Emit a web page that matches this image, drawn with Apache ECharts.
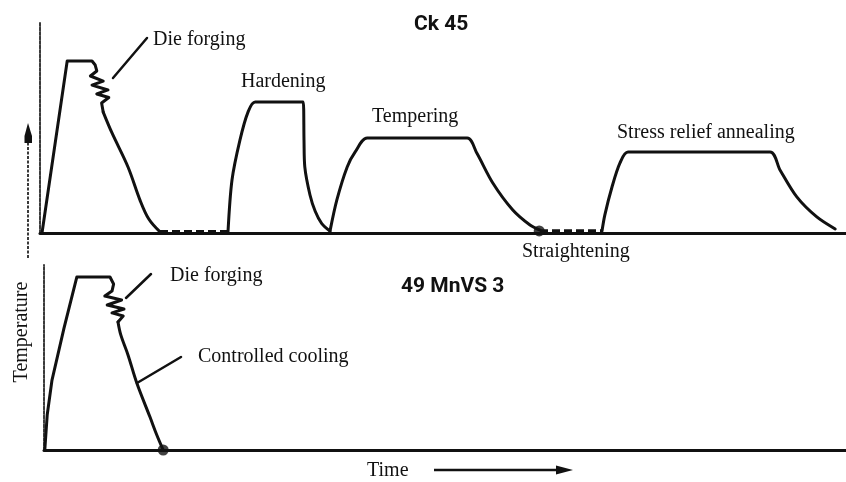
<!DOCTYPE html>
<html>
<head>
<meta charset="utf-8">
<title>Heat treatment sequence: Ck 45 vs 49 MnVS 3</title>
<script src="https://cdn.jsdelivr.net/npm/echarts@6/dist/echarts.min.js"></script>
<style>
  html, body { margin: 0; padding: 0; background: #ffffff; }
  #chart { width: 846px; height: 482px; }
</style>
</head>
<body>
<div id="chart"></div>
<script>
// Ck 45 route: die forging, hardening, tempering, straightening, stress relief annealing
// [time, temperature] in relative units
const ck45ForgingHeat = [
  [0.25, 0], [3.4, 81.5], [6.5, 81.5],
  [6.9, 79.6], [7.1, 76.8], [6.3, 74.4], [7.9, 72.0], [6.5, 70.1],
  [8.5, 67.8], [7.1, 65.9], [8.6, 64.2], [7.7, 61.6], [7.9, 57.3]
];
const ck45ForgingCool = [
  [7.9, 57.3], [9.0, 47.4], [11.0, 31.3], [12.5, 15.6], [13.6, 6.6], [15.0, 0.5]
];
const ck45Hold1 = [[15.0, 0.6], [23.5, 0.6]];
const ck45Hardening = [
  [23.5, 0.5], [24.0, 25.1], [25.0, 44.1], [26.0, 57.3], [26.9, 62.1],
  [32.9, 62.1], [33.0, 44.1], [33.1, 31.3], [33.75, 18.0], [34.4, 10.3],
  [35.2, 4.6], [36.25, 0.9]
];
const ck45Tempering = [
  [36.25, 0.9], [37.1, 15.6], [38.4, 31.3], [39.4, 38.4], [40.9, 45.0],
  [53.4, 45.0], [54.6, 37.9], [56.6, 23.7], [59.1, 10.9], [61.25, 3.8], [62.5, 1.4]
];
const ck45Hold2 = [[62.5, 1.0], [70.25, 1.0]];
const ck45StressRelief = [
  [70.25, 0.9], [70.6, 8.5], [71.5, 21.8], [72.5, 33.2], [73.5, 38.4],
  [91.25, 38.4], [92.5, 29.9], [94.6, 17.1], [97.1, 7.6], [99.4, 1.9]
];
const ck45Straightening = [[62.4, 1.0]];

// 49 MnVS 3 route: die forging followed by controlled cooling
const mnvsForgingHeat = [
  [0.1, 0], [0.4, 18.9], [1.0, 37.8], [2.5, 65.9], [4.1, 93.5], [8.25, 93.5],
  [8.7, 89.7], [8.5, 85.9], [7.6, 83.2], [9.7, 81.1], [7.9, 78.4],
  [10.0, 76.2], [8.5, 74.1], [9.9, 72.4], [9.25, 69.2]
];
const mnvsControlledCooling = [
  [9.25, 69.2], [9.6, 62.2], [10.5, 51.4], [11.6, 36.2], [13.25, 17.8], [14.1, 8.1], [14.9, 0]
];
const mnvsEnd = [[14.9, 0]];

// Annotation texts
const panelTitles = ['Ck 45', '49 MnVS 3'];
const stepLabels = ['Die forging', 'Hardening', 'Tempering', 'Stress relief annealing',
                    'Straightening', 'Die forging', 'Controlled cooling'];
const axisNames = ['Temperature', 'Time'];

const INK = '#111111';
const serif = '"Liberation Serif", "Times New Roman", serif';
const stencil = 'Roboto, "DejaVu Sans", sans-serif';

const chart = echarts.init(document.getElementById('chart'), null, { renderer: 'canvas' });

function xAx(gridIndex, max) {
  return {
    type: 'value', gridIndex: gridIndex, min: 0, max: max,
    axisLine: { show: true, onZero: false, lineStyle: { color: INK, width: 3 } },
    axisTick: { show: false }, axisLabel: { show: false }, splitLine: { show: false }
  };
}
function yAx(gridIndex) {
  return {
    type: 'value', gridIndex: gridIndex, min: 0, max: 100,
    axisLine: { show: true, onZero: false, lineStyle: { color: '#3a3a3a', width: 2, type: [3, 1.5] } },
    axisTick: { show: false }, axisLabel: { show: false }, splitLine: { show: false }
  };
}
function curve(data, idx, smooth) {
  return {
    type: 'line', data: data, xAxisIndex: idx, yAxisIndex: idx,
    showSymbol: false, symbol: 'none', smooth: smooth || false, silent: true,
    lineStyle: { color: INK, width: 3, join: 'round', cap: 'round' }, z: 3
  };
}
function holdLine(data, idx) {
  return {
    type: 'line', data: data, xAxisIndex: idx, yAxisIndex: idx,
    showSymbol: false, symbol: 'none', silent: true,
    lineStyle: { color: INK, width: 3.5, type: [8, 4] }, z: 3
  };
}
function dot(data, idx) {
  return {
    type: 'scatter', data: data, xAxisIndex: idx, yAxisIndex: idx,
    symbol: 'circle', symbolSize: 11, silent: true,
    itemStyle: { color: INK }, z: 4
  };
}
function label(text, x, y, font) {
  return {
    type: 'text', silent: true,
    style: { text: text, x: x, y: y, fill: INK, font: font || ('20px ' + serif),
             textAlign: 'left', textVerticalAlign: 'middle' }
  };
}
function stroke(x1, y1, x2, y2, w) {
  return { type: 'line', silent: true,
           shape: { x1: x1, y1: y1, x2: x2, y2: y2 },
           style: { stroke: INK, lineWidth: w || 2.5, lineCap: 'round' } };
}

chart.setOption({
  animation: false,
  backgroundColor: '#ffffff',
  grid: [
    { left: 40, top: 22, width: 806, height: 211 },
    { left: 44, top: 265, width: 802, height: 185 }
  ],
  xAxis: [xAx(0, 100.75), xAx(1, 100.25)],
  yAxis: [yAx(0), yAx(1)],
  series: [
    curve(ck45ForgingHeat, 0),
    curve(ck45ForgingCool, 0, 0.35),
    holdLine(ck45Hold1, 0),
    curve(ck45Hardening, 0, 0.3),
    curve(ck45Tempering, 0, 0.3),
    holdLine(ck45Hold2, 0),
    curve(ck45StressRelief, 0, 0.3),
    dot(ck45Straightening, 0),
    curve(mnvsForgingHeat, 1),
    curve(mnvsControlledCooling, 1, 0.35),
    dot(mnvsEnd, 1)
  ],
  graphic: [
    // panel titles
    label(panelTitles[0], 414, 25, 'bold 21px ' + stencil),
    label(panelTitles[1], 401, 287, 'bold 21px ' + stencil),
    // process step labels
    label(stepLabels[0], 153, 40),
    label(stepLabels[1], 241, 82),
    label(stepLabels[2], 372, 117),
    label(stepLabels[3], 617, 133),
    label(stepLabels[4], 522, 252),
    label(stepLabels[5], 170, 276),
    label(stepLabels[6], 198, 357),
    // leader lines
    stroke(113, 78, 147, 38),
    stroke(126, 298, 151, 274),
    stroke(137, 383, 181, 357),
    // temperature arrow
    { type: 'line', silent: true, shape: { x1: 28, y1: 258, x2: 28, y2: 138 },
      style: { stroke: '#3a3a3a', lineWidth: 2, lineDash: [3, 1.5] } },
    { type: 'polygon', silent: true,
      shape: { points: [[28, 123], [32, 136], [32, 143], [24.5, 143], [24.5, 136]] },
      style: { fill: INK } },
    // axis names
    { type: 'text', silent: true, rotation: Math.PI / 2, x: 22, y: 332,
      style: { text: axisNames[0], x: 0, y: 0, fill: INK, font: '20px ' + serif,
               textAlign: 'center', textVerticalAlign: 'middle' } },
    label(axisNames[1], 367, 471),
    // time arrow
    { type: 'line', silent: true, shape: { x1: 434, y1: 470, x2: 560, y2: 470 },
      style: { stroke: INK, lineWidth: 2.5 } },
    { type: 'polygon', silent: true,
      shape: { points: [[573, 470], [556, 465.5], [556, 474.5]] },
      style: { fill: INK } }
  ]
});
</script>
</body>
</html>
